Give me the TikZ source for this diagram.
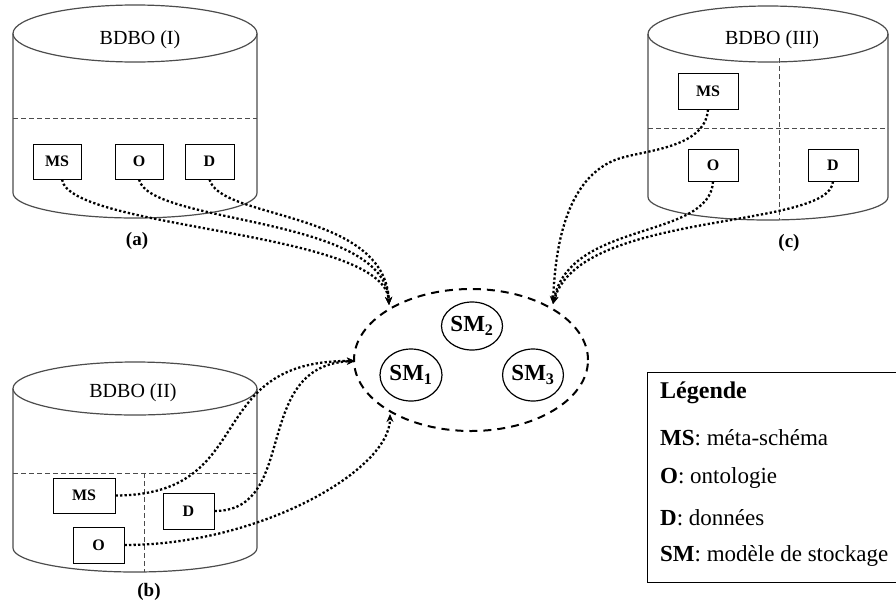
\documentclass[tikz,border=0pt]{standalone}
\usepackage{fontspec}
\setmainfont{Liberation Serif}
\usetikzlibrary{arrows.meta,shapes.geometric}
\begin{document}
\begin{tikzpicture}[x=1pt,y=-1pt,
  cyl/.style={draw=black!70, line width=1.2pt},
  sepline/.style={draw=black!70, line width=0.9pt, dash pattern=on 5pt off 3pt},
  box/.style={draw, line width=1pt, inner sep=0pt, font=\fontsize{16}{16}\selectfont\bfseries},
  smnode/.style={draw, ellipse, line width=1.2pt, inner sep=0pt, font=\fontsize{23}{23}\selectfont\bfseries},
  title/.style={font=\fontsize{20}{20}\selectfont},
  tag/.style={font=\fontsize{19}{19}\selectfont\bfseries},
  legtext/.style={anchor=west, inner sep=0pt, font=\fontsize{23}{23}\selectfont},
  link/.style={line width=2.3pt, dash pattern=on 2.3pt off 2.2pt, -{Stealth[length=8pt,width=7pt]}}]
\useasboundingbox (0,0) rectangle (896,608);

% ---------- Cylinder I ----------
\draw[cyl] (135,33.5) ellipse [x radius=122, y radius=28.5];
\draw[cyl] (13,33.5) -- (13,193) arc[start angle=180, end angle=0, x radius=122, y radius=25] -- (257,33.5);
\draw[sepline] (13,118) -- (257,118);
\node[title] (t1) at (140,40) {BDBO (I)};
\node[box, minimum width=48pt, minimum height=35pt] (ms1) at (57,161.5) {MS};
\node[box, minimum width=48pt, minimum height=35pt] (o1) at (139,161.5) {O};
\node[box, minimum width=49pt, minimum height=35pt] (d1) at (209.5,161.5) {D};
\node[tag] (la) at (137,241) {(a)};

% ---------- Cylinder III ----------
\draw[cyl] (768,34) ellipse [x radius=120, y radius=28];
\draw[cyl] (648,34) -- (648,197) arc[start angle=180, end angle=0, x radius=120, y radius=23] -- (888,34);
\draw[sepline] (648,128) -- (888,128);
\draw[sepline] (779,58) -- (779,220);
\node[title, fill=white, inner sep=1pt] (t3) at (772,40) {BDBO (III)};
\node[box, minimum width=60pt, minimum height=36pt] (ms3) at (708,91) {MS};
\node[box, minimum width=50pt, minimum height=32pt] (o3) at (713,165) {O};
\node[box, minimum width=50pt, minimum height=32pt] (d3) at (833,165) {D};
\node[tag] (lc) at (789,243) {(c)};

% ---------- Cylinder II ----------
\draw[cyl] (135,388.5) ellipse [x radius=122, y radius=26.5];
\draw[cyl] (13,388.5) -- (13,548) arc[start angle=180, end angle=0, x radius=122, y radius=24] -- (257,388.5);
\draw[sepline] (13,473) -- (257,473);
\draw[sepline] (144,473) -- (144,572);
\node[title] (t2) at (133,393) {BDBO (II)};
\node[box, fill=white, minimum width=62pt, minimum height=35pt] (ms2) at (84,495.5) {MS};
\node[box, fill=white, minimum width=51pt, minimum height=36pt] (d2) at (188.5,511) {D};
\node[box, fill=white, minimum width=51pt, minimum height=36pt] (o2) at (98.5,545) {O};
\node[tag] (lb) at (149,592) {(b)};

% ---------- Central storage models ----------
\node[ellipse, draw, line width=2pt, dash pattern=on 8pt off 6pt,
      minimum width=234pt, minimum height=142pt] (hub) at (471,360) {};
\node[smnode, minimum width=61pt, minimum height=48pt] (sm2) at (472,326) {SM\textsubscript{2}};
\node[smnode, minimum width=62pt, minimum height=52pt] (sm1) at (411,375) {SM\textsubscript{1}};
\node[smnode, minimum width=60pt, minimum height=52pt] (sm3) at (533,375) {SM\textsubscript{3}};

\coordinate (ea) at (389,305);
\coordinate (ec) at (553,304);
\coordinate (eb) at (355,361);
\coordinate (ed) at (390,414);

% ---------- Connectors ----------
\draw[link] ([xshift=5pt]ms1.south) .. controls (70,230) and (385,230) .. (ea);
\draw[link] (o1.south) .. controls (150,225) and (385,215) .. (ea);
\draw[link] (d1.south) .. controls (220,220) and (385,210) .. (ea);

\draw[link] (ms3.south) .. controls (705,150) and (640,150) .. (615,160)
  .. controls (565,180) and (555,250) .. (ec);
\draw[link] (o3.south) .. controls (710,240) and (570,220) .. (ec);
\draw[link] (d3.south) .. controls (830,230) and (580,210) .. (ec);

\draw[link] (ms2.east) .. controls (260,495) and (200,360) .. (eb);
\draw[link] (d2.east) .. controls (300,511) and (250,365) .. (eb);
\draw[link] (o2.east) .. controls (260,545) and (390,470) .. (ed);

% ---------- Legend ----------
\draw[line width=1pt] (898,372) -- (647,372) -- (647,582) -- (898,582);
\node[legtext, font=\fontsize{24}{24}\selectfont\bfseries] (lg) at (660,393) {Légende};
\node[legtext] (l1) at (660,438) {\textbf{MS}: méta-schéma};
\node[legtext] (l2) at (660,478) {\textbf{O}: ontologie};
\node[legtext] (l3) at (660,518) {\textbf{D}: données};
\node[legtext] (l4) at (660,556) {\textbf{SM}: modèle de stockage};
\end{tikzpicture}
\end{document}
